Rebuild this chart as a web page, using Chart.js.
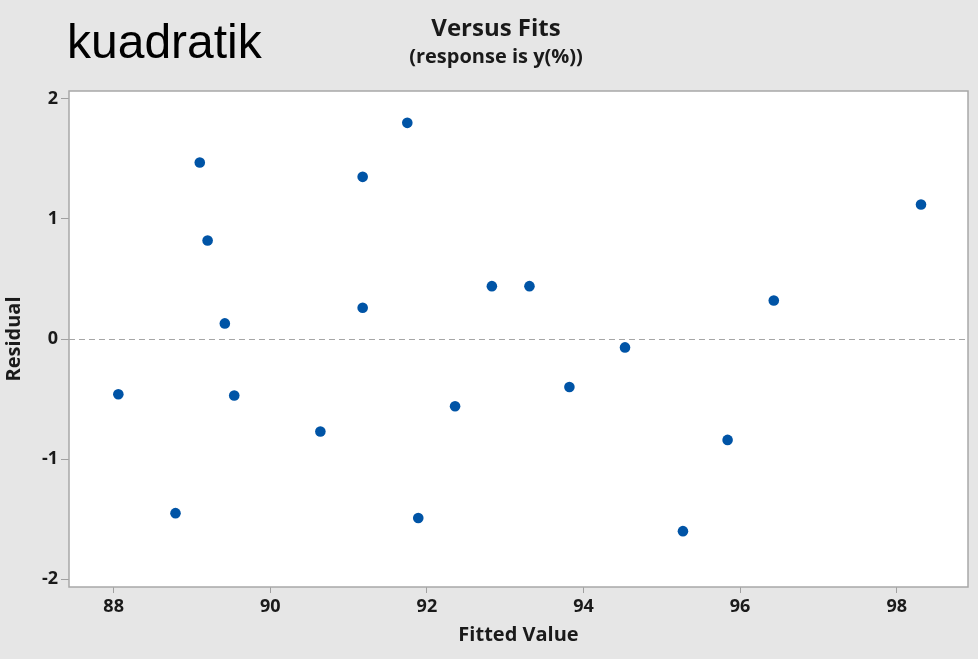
<!DOCTYPE html>
<html>
<head>
<meta charset="utf-8">
<script src="https://cdn.jsdelivr.net/npm/chart.js@4/dist/chart.umd.min.js"></script>
<style>
  html, body { margin: 0; padding: 0; background: #e6e6e6; }
  #wrap { width: 978px; height: 659px; }
</style>
</head>
<body>
<div id="wrap"><canvas id="c" width="978" height="659"></canvas></div>
<script>
// Residuals against fitted values, quadratic model
const fittedValues = [88.06, 88.79, 89.10, 89.20, 89.42, 89.54, 90.64, 91.18, 91.18, 91.75,
                      91.89, 92.36, 92.83, 93.31, 93.82, 94.53, 95.27, 95.84, 96.43, 98.31];
const residuals    = [-0.46, -1.45, 1.47, 0.82, 0.13, -0.47, -0.77, 1.35, 0.26, 1.80,
                      -1.49, -0.56, 0.44, 0.44, -0.40, -0.07, -1.60, -0.84, 0.32, 1.12];
const xTickValues = [88, 90, 92, 94, 96, 98];
const yTickValues = [-2, -1, 0, 1, 2];

const modelLabel = 'kuadratik';
const chartTitle = 'Versus Fits';
const chartSubtitle = '(response is y(%))';
const xAxisTitle = 'Fitted Value';
const yAxisTitle = 'Residual';

const points = fittedValues.map((x, i) => ({ x: x, y: residuals[i] }));

const UI_FONT = '"Open Sans", "Noto Sans", sans-serif';

// Gray page behind, white plot panel with a thin frame
const panelPlugin = {
  id: 'panel',
  beforeDraw(chart) {
    const { ctx, chartArea: a } = chart;
    ctx.save();
    ctx.fillStyle = '#e6e6e6';
    ctx.fillRect(0, 0, chart.width, chart.height);
    ctx.fillStyle = '#ffffff';
    ctx.fillRect(a.left, a.top, a.right - a.left, a.bottom - a.top);
    ctx.restore();
  },
  beforeDatasetsDraw(chart) {
    const { ctx, chartArea: a, scales } = chart;
    const y0 = scales.y.getPixelForValue(0);
    ctx.save();
    ctx.strokeStyle = '#a6a6a6';
    ctx.lineWidth = 1;
    ctx.setLineDash([6, 4]);
    ctx.beginPath();
    ctx.moveTo(a.left, Math.round(y0) + 0.5);
    ctx.lineTo(a.right, Math.round(y0) + 0.5);
    ctx.stroke();
    ctx.restore();
  },
  afterDraw(chart) {
    const { ctx, chartArea: a } = chart;
    ctx.save();
    ctx.strokeStyle = '#a8a8a8';
    ctx.lineWidth = 1.5;
    ctx.strokeRect(a.left, a.top, a.right - a.left, a.bottom - a.top);

    ctx.fillStyle = '#000000';
    ctx.textBaseline = 'alphabetic';
    ctx.textAlign = 'left';
    ctx.font = '48px "Liberation Sans", Arial, sans-serif';
    ctx.fillText(modelLabel, 67, 58);

    ctx.fillStyle = '#1a1a1a';
    ctx.textAlign = 'center';
    ctx.font = 'bold 24px ' + UI_FONT;
    ctx.fillText(chartTitle, 496, 36);
    ctx.font = 'bold 20px ' + UI_FONT;
    ctx.fillText(chartSubtitle, 496, 63);
    ctx.restore();
  }
};

new Chart(document.getElementById('c'), {
  type: 'scatter',
  data: {
    datasets: [{
      data: points,
      backgroundColor: '#0054a6',
      borderColor: '#0054a6',
      pointRadius: 5.3,
      pointHoverRadius: 5.3,
      borderWidth: 0
    }]
  },
  options: {
    responsive: false,
    animation: false,
    events: [],
    layout: { padding: { left: 0, top: 91, right: 10, bottom: 0 } },
    plugins: {
      legend: { display: false },
      title: { display: false },
      tooltip: { enabled: false }
    },
    scales: {
      x: {
        type: 'linear',
        min: 87.43,
        max: 98.91,
        afterBuildTicks(scale) { scale.ticks = xTickValues.map(v => ({ value: v })); },
        afterFit(scale) { scale.height = 72; },
        grid: { display: true, drawOnChartArea: false, drawTicks: true, tickLength: 6, color: '#a0a0a0' },
        border: { display: false },
        ticks: {
          padding: 3,
          color: '#1a1a1a',
          font: { family: UI_FONT, size: 18, weight: 'bold' },
          maxRotation: 0
        },
        title: {
          display: true,
          text: xAxisTitle,
          color: '#1a1a1a',
          font: { family: UI_FONT, size: 20, weight: 'bold' },
          padding: { top: 0, bottom: 12 }
        }
      },
      y: {
        type: 'linear',
        min: -2.065,
        max: 2.065,
        afterBuildTicks(scale) { scale.ticks = yTickValues.map(v => ({ value: v })); },
        afterFit(scale) { scale.width = 69; },
        grid: { display: true, drawOnChartArea: false, drawTicks: true, tickLength: 8, color: '#a0a0a0' },
        border: { display: false },
        ticks: {
          padding: 3,
          color: '#1a1a1a',
          font: { family: UI_FONT, size: 18, weight: 'bold' }
        },
        title: {
          display: true,
          text: yAxisTitle,
          color: '#1a1a1a',
          font: { family: UI_FONT, size: 20, weight: 'bold' },
          padding: { top: 2, bottom: 0 }
        }
      }
    }
  },
  plugins: [panelPlugin]
});
</script>
</body>
</html>
